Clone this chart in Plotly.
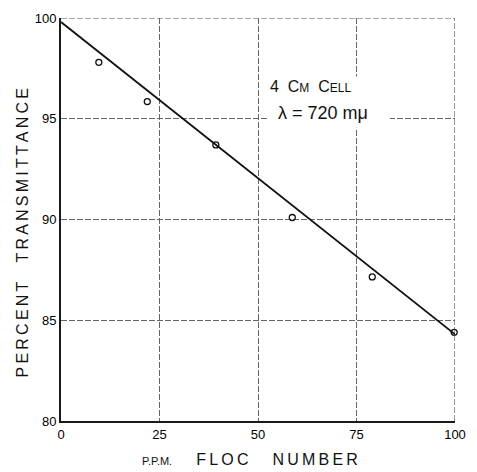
import plotly.graph_objects as go

# ---- data ----
floc_number = [9.6, 21.9, 39.3, 58.7, 79.0, 99.8]
percent_transmittance = [97.8, 95.85, 93.7, 90.1, 87.15, 84.4]

fit_x = [0, 100]
fit_y = [99.8, 84.3]

x_ticks = [0, 25, 50, 75, 100]
y_ticks = [80, 85, 90, 95, 100]

FONT = "Liberation Sans"
GRID = "#666666"


def spaced(word):
    return "\u2009".join(word)


fig = go.Figure()

fig.add_trace(go.Scatter(
    x=fit_x, y=fit_y, mode="lines",
    line=dict(color="#111111", width=1.8),
    hoverinfo="skip", showlegend=False, cliponaxis=False,
))

fig.add_trace(go.Scatter(
    x=floc_number, y=percent_transmittance, mode="markers",
    marker=dict(symbol="circle-open", size=6, color="#111111",
                line=dict(width=1.3, color="#111111")),
    showlegend=False, cliponaxis=False,
))

axis_common = dict(
    showgrid=True, gridcolor=GRID, gridwidth=1, griddash="6px,2px",
    zeroline=False, showline=True, linecolor="#1a1a1a", linewidth=2,
    ticks="", tickfont=dict(family=FONT, size=13, color="#000000"),
)

fig.update_xaxes(range=[0, 100], tickvals=x_ticks,
                 ticktext=[str(v) for v in x_ticks], **axis_common)
fig.update_yaxes(range=[80, 100], tickvals=y_ticks,
                 ticktext=[str(v) for v in y_ticks], **axis_common)

# top and right frame lines (drawn like grid lines)
fig.add_shape(type="line", xref="x", yref="y", x0=0, x1=100, y0=100, y1=100,
              line=dict(color="#555555", width=1.2, dash="6px,2px"), layer="above")
fig.add_shape(type="line", xref="x", yref="y", x0=100, x1=100, y0=80, y1=100,
              line=dict(color="#555555", width=1.2, dash="6px,2px"), layer="above")

# white label box hiding grid lines behind the note
fig.add_shape(type="rect", xref="x", yref="y", x0=52.8, x1=83.5, y0=94.55, y1=97.1,
              fillcolor="white", line=dict(width=0), layer="above")

sc = "font-size:12px"
fig.add_annotation(
    x=52.6, y=96.6, xref="x", yref="y", xanchor="left", yanchor="middle",
    text=f"4  C<span style='{sc}'>M</span>  C<span style='{sc}'>ELL</span>",
    showarrow=False, font=dict(family=FONT, size=16, color="#111111"),
)
fig.add_annotation(
    x=54.6, y=95.3, xref="x", yref="y", xanchor="left", yanchor="middle",
    text="\u03bb = 720 m\u03bc",
    showarrow=False, font=dict(family=FONT, size=18, color="#111111"),
)

# axis titles
fig.add_annotation(
    x=-0.099, y=0.468, xref="paper", yref="paper", xanchor="center", yanchor="middle",
    textangle=-90, showarrow=False,
    text=spaced("PERCENT") + "\u2003\u2009" + spaced("TRANSMITTANCE"),
    font=dict(family=FONT, size=16, color="#111111"),
)
fig.add_annotation(
    x=0.2, y=-0.121, xref="paper", yref="paper", xanchor="left", yanchor="bottom",
    showarrow=False,
    text="<span style='font-size:11px'>P.P.M.</span>\u2003\u2002"
         + spaced("FLOC") + "\u2003\u2002" + spaced("NUMBER"),
    font=dict(family=FONT, size=16, color="#111111"),
)

fig.update_layout(
    width=477, height=472, autosize=False,
    margin=dict(l=61, r=11, t=16, b=51),
    paper_bgcolor="white", plot_bgcolor="white",
    font=dict(family=FONT, color="#111111"),
)

fig.write_html("out.html",
               config={"displayModeBar": False, "staticPlot": True},
               post_script="document.body.style.margin='0';"
                           "document.body.style.overflow='hidden';")
